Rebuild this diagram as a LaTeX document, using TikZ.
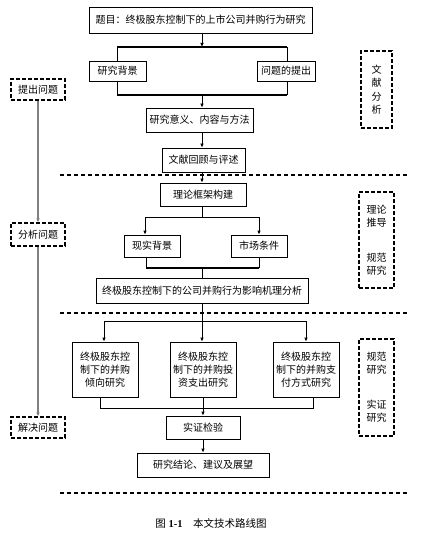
\documentclass[tikz,border=0pt]{standalone}
\usepackage{fontspec}
\setmainfont{Liberation Serif}
\newfontfamily\cjk{Noto Sans CJK SC}
\usetikzlibrary{shadows,arrows.meta}
\pgfdeclarelayer{background}
\pgfsetlayers{background,main}
\tikzset{
  box/.style={draw, line width=0.8pt, fill=white, inner sep=0pt, align=center,
    font=\cjk\fontsize{10}{13}\selectfont,
    drop shadow={shadow xshift=0.9pt, shadow yshift=-0.9pt, opacity=1, fill=black}},
  dbox/.style={draw, dash pattern=on 4pt off 2pt, line width=1.3pt, fill=white, inner sep=0pt,
    align=center, font=\cjk\fontsize{10}{13}\selectfont},
  conn/.style={line width=0.9pt},
  arr/.style={line width=0.9pt, -{Latex[length=4pt,width=3.6pt]}},
  grayarr/.style={line width=1.3pt, draw=black!50, -{Latex[length=4pt,width=3.6pt]}},
  sepline/.style={line width=1.1pt, dash pattern=on 4pt off 3pt},
  thickln/.style={line width=1.8pt}
}
\begin{document}
\begin{tikzpicture}[x=1pt,y=-1pt]
\useasboundingbox (0,0) rectangle (437,537);
% main nodes
\node[box, minimum width=223pt, minimum height=26pt] (title) at (200.5,20) {题目：终极股东控制下的上市公司并购行为研究};
\node[box, minimum width=57pt, minimum height=20pt] (bg) at (117.5,71) {研究背景};
\node[box, minimum width=58pt, minimum height=20pt] (q) at (286,71) {问题的提出};
\node[box, minimum width=107pt, minimum height=24pt] (sig) at (199.5,120) {研究意义、内容与方法};
\node[box, minimum width=83pt, minimum height=24pt] (lit) at (203.5,160) {文献回顾与评述};
\node[box, minimum width=86pt, minimum height=23pt] (theory) at (203,194.5) {理论框架构建};
\node[box, minimum width=56pt, minimum height=22pt] (real) at (152,246) {现实背景};
\node[box, minimum width=56pt, minimum height=22pt] (mkt) at (259,246) {市场条件};
\node[box, minimum width=212pt, minimum height=25pt] (mech) at (202,290.5) {终极股东控制下的公司并购行为影响机理分析};
\node[box, minimum width=66pt, minimum height=55pt] (b1) at (105,369.5) {终极股东控\\制下的并购\\倾向研究};
\node[box, minimum width=66pt, minimum height=55pt] (b2) at (203,369.5) {终极股东控\\制下的并购投\\资支出研究};
\node[box, minimum width=66pt, minimum height=55pt] (b3) at (306,369.5) {终极股东控\\制下的并购支\\付方式研究};
\node[box, minimum width=74pt, minimum height=23pt] (emp) at (203,427.5) {实证检验};
\node[box, minimum width=132pt, minimum height=24pt] (concl) at (203,465) {研究结论、建议及展望};
% left dashed
\node[dbox, minimum width=54pt, minimum height=21pt] (p1) at (38,89.5) {提出问题};
\node[dbox, minimum width=54pt, minimum height=23pt] (p2) at (38,234.5) {分析问题};
\node[dbox, minimum width=54pt, minimum height=21pt] (p3) at (38,427.5) {解决问题};
% right dashed
\node[dbox, minimum width=31pt, minimum height=77pt, font=\cjk\fontsize{10}{13.5}\selectfont] (r1) at (376.5,89.5) {文\\献\\分\\析};
\node[dbox, minimum width=35pt, minimum height=96pt, font=\cjk\fontsize{10}{12.5}\selectfont] (r2) at (376.5,240) {理论\\推导\\[23pt]规范\\研究};
\node[dbox, minimum width=35pt, minimum height=97pt, font=\cjk\fontsize{10}{13}\selectfont] (r3) at (376.5,387.5) {规范\\研究\\[22pt]实证\\研究};
% caption
\node[font=\fontsize{10.5}{13}\selectfont] (cap) at (211,523) {{\cjk 图} \textbf{1-1}\quad{\cjk 本文技术路线图}};
% coordinates
\coordinate (bt) at (202,47);
\coordinate (btl) at (117,47);
\coordinate (btr) at (287,47);
\coordinate (bbl) at (117,95);
\coordinate (bbr) at (287,95);
\coordinate (bb) at (202,95);
\coordinate (tf) at (202,217);
\coordinate (tfl) at (145,217);
\coordinate (tfr) at (259,217);
\coordinate (jl) at (146,268);
\coordinate (jr) at (259,268);
\coordinate (jm) at (202,268);
\coordinate (mf) at (202,321);
\coordinate (mfl) at (104,321);
\coordinate (mfr) at (306,321);
\coordinate (kl) at (100,408);
\coordinate (kr) at (313,408);
\coordinate (km) at (203,408);
\coordinate (d1l) at (60,175);
\coordinate (d1r) at (407,175);
\coordinate (d2l) at (60,313);
\coordinate (d2r) at (407,313);
\coordinate (d3l) at (60,493);
\coordinate (d3r) at (407,493);
\begin{pgfonlayer}{background}
\draw[sepline] (d1l) -- (d1r);
\draw[sepline] (d2l) -- (d2r);
\draw[sepline] (d3l) -- (d3r);
\draw[arr] (title.south -| bt) -- (bt);
\draw[conn] (bbl) -- (btl) -- (btr) -- (bbr);
\draw[thickln] (btl) -- (btr);
\draw[thickln] (bbl) -- (bbr);
\draw[arr] (bb) -- (bb |- sig.north);
\draw[arr] (sig.south -| bb) -- (lit.north -| bb);
\draw[arr] (lit.south -| bb) -- (theory.north -| bb);
\draw[conn] (theory.south -| tf) -- (tf);
\draw[conn] (tfl) -- (tfr);
\draw[arr] (tfl) -- (tfl |- real.north);
\draw[arr] (tfr) -- (tfr |- mkt.north);
\draw[conn] (real.south -| jl) -- (jl);
\draw[conn] (mkt.south -| jr) -- (jr);
\draw[thickln] (jl) -- (jr);
\draw[conn] (jm) -- (mech.north -| jm);
\draw[conn] (mech.south -| mf) -- (mf);
\draw[conn] (mfl) -- (mfr);
\draw[arr] (mfl) -- (mfl |- b1.north);
\draw[arr] (mf) -- (mf |- b2.north);
\draw[arr] (mfr) -- (mfr |- b3.north);
\draw[conn] (b1.south -| kl) -- (kl) -- (kr) -- (b3.south -| kr);
\draw[conn] (b2.south -| km) -- (km);
\draw[arr] (km) -- (emp.north -| km);
\draw[arr] (emp.south -| km) -- (concl.north -| km);
\draw[grayarr] (p1.south) -- (p2.north);
\draw[grayarr] (p2.south) -- (p3.north);
\end{pgfonlayer}
\end{tikzpicture}
\end{document}
